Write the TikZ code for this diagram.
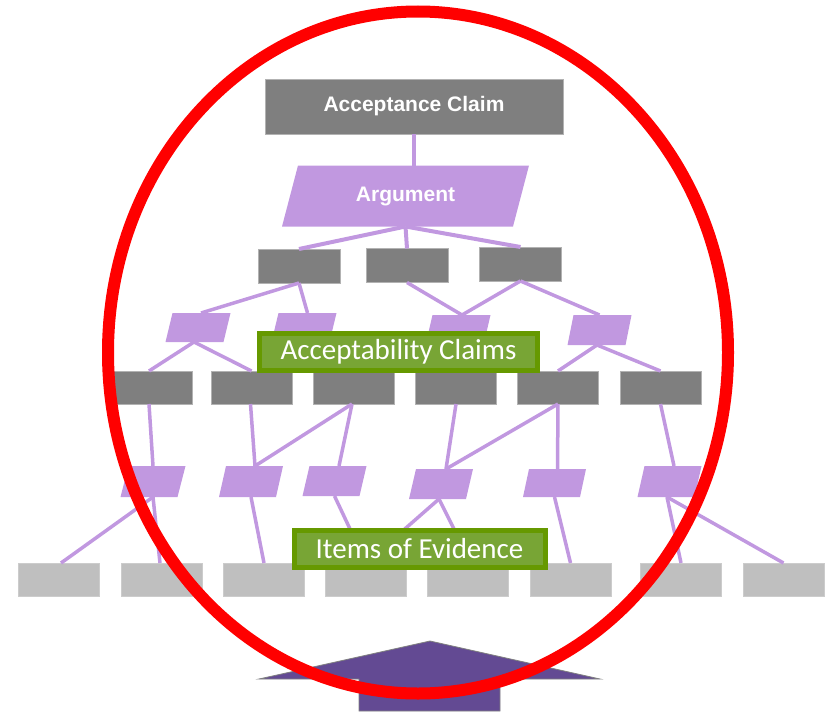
\documentclass[tikz,border=0pt]{standalone}
\usepackage{fontspec}
\setmainfont{Liberation Sans}
\newfontfamily\labelfont{Carlito}
\usetikzlibrary{shapes.geometric,backgrounds}
\definecolor{boxgray}{HTML}{7F7F7F}
\definecolor{lightbox}{HTML}{BFBFBF}
\definecolor{lav}{HTML}{C198E0}
\definecolor{greenedge}{HTML}{669900}
\definecolor{greenfill}{HTML}{78A535}
\definecolor{arrowpurple}{HTML}{634A93}
\definecolor{ringred}{HTML}{FF0000}
\tikzset{
  claimbox/.style={rectangle, fill=boxgray, draw=boxgray!60!white, line width=0.6pt,
    minimum width=#1, minimum height=33pt, inner sep=0pt, outer sep=0pt},
  evbox/.style={rectangle, fill=lightbox, draw=lightbox!80!white, line width=0.6pt,
    minimum width=81pt, minimum height=33pt, inner sep=0pt, outer sep=0pt},
  argbox/.style={rectangle, draw=none, inner sep=0pt, outer sep=0pt,
    minimum width=#1},
  argfill/.style={fill=lav},
  tag/.style={rectangle, fill=greenfill, draw=greenedge, line width=5pt,
    minimum height=37pt, inner sep=0pt, outer sep=0pt, text=white,
    font=\labelfont\fontsize{29}{29}\selectfont},
  link/.style={draw=lav, line width=3.5pt},
  toplink/.style={draw=lav, line width=4pt},
  ring/.style={draw=ringred, line width=12pt},
  bigarrow/.style={fill=arrowpurple, draw=gray, line width=0.8pt}
}
\begin{document}
\begin{tikzpicture}[x=1pt,y=1pt]
\useasboundingbox (0,0) rectangle (827,-717);
% upward arrow
\path[bigarrow] (430,-641) -- (600,-679) -- (500,-679) -- (500,-711) -- (359,-711)
  -- (359,-679) -- (259,-679) -- cycle;

% top claim and argument
\node[claimbox=298pt, minimum height=55pt, text=white,
  font=\bfseries\fontsize{21}{21}\selectfont] (ac) at (414,-106.5) {Acceptance Claim};
\node[argbox=231pt, minimum height=61pt, text=white,
  font=\bfseries\fontsize{21}{21}\selectfont] (arg) at (405.5,-196) {Argument};

% level 2 claims
\node[claimbox=82pt, minimum height=34pt] (b1) at (299,-266) {};
\node[claimbox=82pt, minimum height=34pt] (b2) at (407,-265.5) {};
\node[claimbox=82pt, minimum height=34pt] (b3) at (520.5,-264) {};

% level 2 arguments
\node[argbox=58pt, minimum height=29pt] (p1) at (198,-327.5) {};
\node[argbox=58pt, minimum height=29pt] (p2) at (304,-327.5) {};
\node[argbox=58pt, minimum height=30pt] (p3) at (458,-330) {};
\node[argbox=58pt, minimum height=30pt] (p4) at (599.5,-330) {};

% level 3 claims
\foreach \i/\x in {1/151.5,2/251.5,3/353.5,4/456,5/558,6/660.5}
  \node[claimbox=81pt] (d\i) at (\x,-387.5) {};

% level 3 arguments
\node[argbox=57pt, minimum height=31pt] (q1) at (153,-481.5) {};
\node[argbox=57pt, minimum height=31pt] (q2) at (251,-481.5) {};
\node[argbox=57pt, minimum height=30pt] (q3) at (334.5,-481) {};
\node[argbox=57pt, minimum height=30pt] (q4) at (441,-484) {};
\node[argbox=57pt, minimum height=28pt] (q5) at (554.5,-483) {};
\node[argbox=57pt, minimum height=31pt] (q6) at (669.5,-481.5) {};

% parallelogram bodies behind
\begin{pgfonlayer}{background}
\foreach \n/\s in {arg/8,p1/3.5,p2/3.5,p3/3.5,p4/3,q1/4,q2/3.5,q3/3.5,q4/3.5,q5/3,q6/3.5}
  \path[argfill] ([xshift=\s pt]\n.north west) -- ([xshift=\s pt]\n.north east)
    -- ([xshift=-\s pt]\n.south east) -- ([xshift=-\s pt]\n.south west) -- cycle;
\end{pgfonlayer}

% evidence
\foreach \i/\x in {1/59,2/161.5,3/264,4/366,5/468,6/570.5,7/681,8/783.5}
  \node[evbox] (e\i) at (\x,-579.5) {};

% connectors
\path[toplink] (ac.south) -- (ac.south |- arg.north);
\path[toplink] (arg.south) -- (b1.north);
\path[toplink] (arg.south) -- (b2.north);
\path[toplink] (arg.south) -- (b3.north);

\path[link] (b1.south) -- ([xshift=3pt]p1.north);
\path[link] (b1.south) -- ([xshift=3.5pt]p2.north);
\path[link] (b2.south) -- ([xshift=4pt]p3.north);
\path[link] (b3.south) -- ([xshift=4pt]p3.north);
\path[link] (b3.south) -- (p4.north);

\path[link] ([xshift=-4pt]p1.south) -- ([xshift=-2.5pt]d1.north);
\path[link] ([xshift=-4pt]p1.south) -- (d2.north);
\path[link] (p2.south) -- (d3.north);
\path[link] (p3.south) -- (d4.north);
\path[link] ([xshift=-2.5pt]p4.south) -- (d5.north);
\path[link] ([xshift=-2.5pt]p4.south) -- (d6.north);

\path[link] ([xshift=-2.5pt]d1.south) -- (q1.north);
\path[link] ([xshift=-1pt]d2.south) -- ([xshift=4pt]q2.north);
\path[link] ([xshift=-1.5pt]d3.south) -- ([xshift=4pt]q2.north);
\path[link] ([xshift=-1.5pt]d3.south) -- ([xshift=4.5pt]q3.north);
\path[link] (d4.south) -- ([xshift=5pt]q4.north);
\path[link] (d5.south) -- ([xshift=5pt]q4.north);
\path[link] (d5.south) -- ([xshift=3pt]q5.north);
\path[link] (d6.south) -- ([xshift=4.5pt]q6.north);

\path[link] (q1.south) -- ([xshift=2pt]e1.north);
\path[link] (q1.south) -- ([xshift=-1.5pt]e2.north);
\path[link] (q2.south) -- (e3.north);
\path[link] (q3.south) -- (e4.north);
\path[link] ([xshift=-2pt]q4.south) -- (e4.north);
\path[link] ([xshift=-2pt]q4.south) -- ([xshift=3pt]e5.north);
\path[link] (q5.south) -- (e6.north);
\path[link] ([xshift=-2.5pt]q6.south) -- (e7.north);
\path[link] ([xshift=-2.5pt]q6.south) -- (e8.north);

% labels
\node[tag, minimum width=278pt] (lac) at (398.5,-352) {Acceptability Claims};
\node[tag, minimum width=251pt] (lev) at (419.5,-549) {Items of Evidence};

% red ring
\node[ellipse, ring, minimum width=620pt, minimum height=682pt, inner sep=0pt] (rim)
  at (418,-352.5) {};
\end{tikzpicture}
\end{document}
